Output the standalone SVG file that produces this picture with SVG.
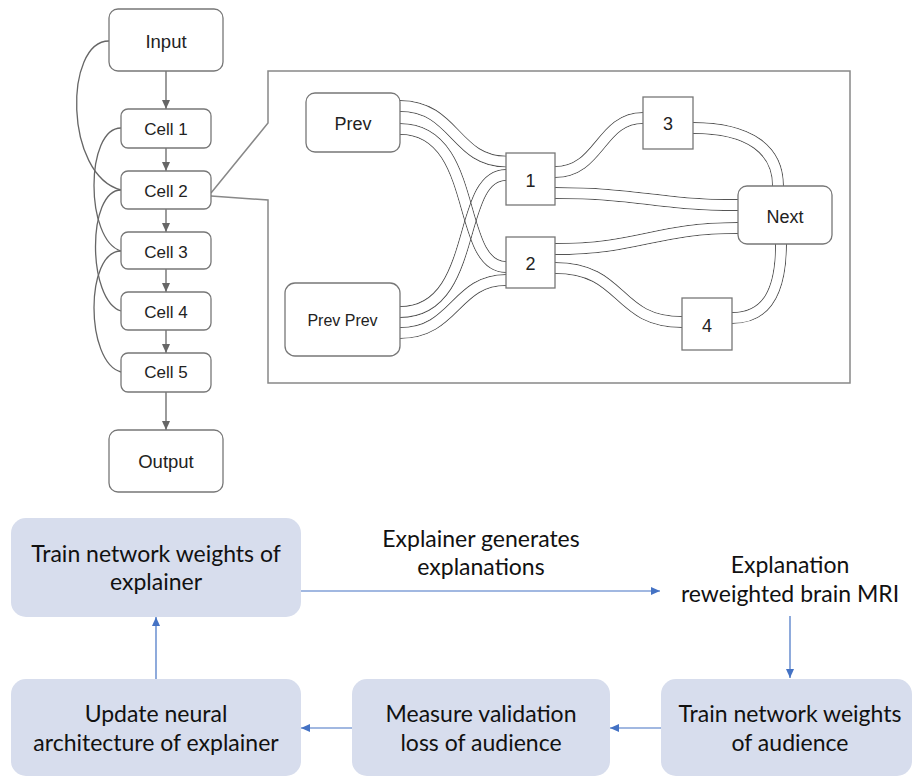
<svg xmlns="http://www.w3.org/2000/svg" width="913" height="777" viewBox="0 0 913 777">
<style>
  .gbox{fill:#fff;stroke:#777;stroke-width:1.3}
  .gline{fill:none;stroke:#666;stroke-width:1.3}
  .gtxt{font-family:"Liberation Sans",Arial,sans-serif;fill:#222;text-anchor:middle}
  .big{font-size:18.5px}
  .cell{font-size:17px}
  .inner{font-size:18px}
  .pp{font-size:16px}
  .frame{fill:none;stroke:#888;stroke-width:1.5}
  .mo{fill:none;stroke:#fff;stroke-width:12}
  .mi{fill:none;stroke:#000;stroke-width:10}
  .tube{fill:none;stroke:#555;stroke-width:12}
  .bbox{fill:#D7DDED;stroke:none}
  .btxt{font-family:Lato,"Open Sans",sans-serif;font-size:23px;fill:#111;text-anchor:middle}
  .bline{fill:none;stroke:#4472C4;stroke-width:1.2}
</style>
<defs>
  <marker id="ag" markerUnits="userSpaceOnUse" markerWidth="9" markerHeight="8" refX="9" refY="4" orient="auto">
    <path d="M0,0 L9,4 L0,8 z" fill="#666"/>
  </marker>
  <marker id="ab" markerUnits="userSpaceOnUse" markerWidth="9" markerHeight="8" refX="9" refY="4" orient="auto">
    <path d="M0,0 L9,4 L0,8 z" fill="#4472C4"/>
  </marker>
  <path id="t1" d="M400,106 C455,106 455,161.5 506,161.5"/>
  <path id="t2" d="M400,129 C480,129 455,267 506,267"/>
  <path id="t3" d="M400,312 C480,312 455,175 506,175"/>
  <path id="t4" d="M400,333 C455,333 455,280 506,280"/>
  <path id="t5" d="M555,172 C600,172 600,118 643,118"/>
  <path id="t6" d="M555,193 C640,193 655,205 738,205"/>
  <path id="t7" d="M555,249 C640,249 655,228 738,228"/>
  <path id="t8" d="M555,268 C625,268 615,322 682,322"/>
  <path id="t9" d="M693,128 C750,128 778,150 778,186"/>
  <path id="t10" d="M732,318 C768,318 781,290 781,244"/>
  <mask id="m1" maskUnits="userSpaceOnUse" x="0" y="0" width="913" height="777"><use href="#t1" class="mo"/><use href="#t1" class="mi"/></mask>
  <mask id="m2" maskUnits="userSpaceOnUse" x="0" y="0" width="913" height="777"><use href="#t2" class="mo"/><use href="#t2" class="mi"/></mask>
  <mask id="m3" maskUnits="userSpaceOnUse" x="0" y="0" width="913" height="777"><use href="#t3" class="mo"/><use href="#t3" class="mi"/></mask>
  <mask id="m4" maskUnits="userSpaceOnUse" x="0" y="0" width="913" height="777"><use href="#t4" class="mo"/><use href="#t4" class="mi"/></mask>
  <mask id="m5" maskUnits="userSpaceOnUse" x="0" y="0" width="913" height="777"><use href="#t5" class="mo"/><use href="#t5" class="mi"/></mask>
  <mask id="m6" maskUnits="userSpaceOnUse" x="0" y="0" width="913" height="777"><use href="#t6" class="mo"/><use href="#t6" class="mi"/></mask>
  <mask id="m7" maskUnits="userSpaceOnUse" x="0" y="0" width="913" height="777"><use href="#t7" class="mo"/><use href="#t7" class="mi"/></mask>
  <mask id="m8" maskUnits="userSpaceOnUse" x="0" y="0" width="913" height="777"><use href="#t8" class="mo"/><use href="#t8" class="mi"/></mask>
  <mask id="m9" maskUnits="userSpaceOnUse" x="0" y="0" width="913" height="777"><use href="#t9" class="mo"/><use href="#t9" class="mi"/></mask>
  <mask id="m10" maskUnits="userSpaceOnUse" x="0" y="0" width="913" height="777"><use href="#t10" class="mo"/><use href="#t10" class="mi"/></mask>
</defs>
<rect width="913" height="777" fill="#fff"/>

<g id="connectors">
  <!-- cell chain -->
  <path class="gline" d="M166,71 L166,109" marker-end="url(#ag)"/>
  <path class="gline" d="M166,148 L166,171" marker-end="url(#ag)"/>
  <path class="gline" d="M166,209 L166,232" marker-end="url(#ag)"/>
  <path class="gline" d="M166,269 L166,292" marker-end="url(#ag)"/>
  <path class="gline" d="M166,330 L166,353" marker-end="url(#ag)"/>
  <path class="gline" d="M166,392 L166,430" marker-end="url(#ag)"/>
  <!-- skip connections -->
  <path class="gline" d="M109,41 C64,41 64,175 121,190"/>
  <path class="gline" d="M121,128 C85,128 85,240 121,251"/>
  <path class="gline" d="M121,190 C87,190 87,300 121,311"/>
  <path class="gline" d="M121,251 C85,251 85,362 121,372"/>
  <!-- zoom frame -->
  <path class="frame" d="M211,193 L268,123 L268,71 L850,71 L850,383 L268,383 L268,200 L211,196"/>
  <!-- cell internal tubes -->
  <use href="#t1" class="tube" mask="url(#m1)"/>
  <use href="#t2" class="tube" mask="url(#m2)"/>
  <use href="#t3" class="tube" mask="url(#m3)"/>
  <use href="#t4" class="tube" mask="url(#m4)"/>
  <use href="#t5" class="tube" mask="url(#m5)"/>
  <use href="#t6" class="tube" mask="url(#m6)"/>
  <use href="#t7" class="tube" mask="url(#m7)"/>
  <use href="#t8" class="tube" mask="url(#m8)"/>
  <use href="#t9" class="tube" mask="url(#m9)"/>
  <use href="#t10" class="tube" mask="url(#m10)"/>
  <!-- bottom flow -->
  <path class="bline" d="M301,591 L660,591" marker-end="url(#ab)"/>
  <path class="bline" d="M790,616 L790,678" marker-end="url(#ab)"/>
  <path class="bline" d="M661,728 L610,728" marker-end="url(#ab)"/>
  <path class="bline" d="M352,728 L301,728" marker-end="url(#ab)"/>
  <path class="bline" d="M156,679 L156,617" marker-end="url(#ab)"/>
</g>

<g id="input"><rect class="gbox" x="109" y="9" width="114" height="62" rx="9"/><text class="gtxt big" x="166" y="47.5">Input</text></g>
<g id="cell1"><rect class="gbox" x="121" y="109" width="90" height="39" rx="7"/><text class="gtxt cell" x="166" y="134.5">Cell 1</text></g>
<g id="cell2"><rect class="gbox" x="121" y="171" width="90" height="38" rx="7"/><text class="gtxt cell" x="166" y="196.5">Cell 2</text></g>
<g id="cell3"><rect class="gbox" x="121" y="232" width="90" height="37" rx="7"/><text class="gtxt cell" x="166" y="257.5">Cell 3</text></g>
<g id="cell4"><rect class="gbox" x="121" y="292" width="90" height="38" rx="7"/><text class="gtxt cell" x="166" y="318">Cell 4</text></g>
<g id="cell5"><rect class="gbox" x="121" y="353" width="90" height="39" rx="7"/><text class="gtxt cell" x="166" y="378">Cell 5</text></g>
<g id="output"><rect class="gbox" x="109" y="430" width="114" height="62" rx="9"/><text class="gtxt big" x="166" y="467.5">Output</text></g>

<g id="prev"><rect class="gbox" x="306" y="93" width="94" height="59" rx="9"/><text class="gtxt inner" x="353" y="130">Prev</text></g>
<g id="prevprev"><rect class="gbox" x="285" y="283" width="115" height="73" rx="10"/><text class="gtxt pp" x="342.5" y="326">Prev Prev</text></g>
<g id="op1"><rect class="gbox" x="506" y="153" width="49" height="52"/><text class="gtxt inner" x="530.5" y="186.5">1</text></g>
<g id="op2"><rect class="gbox" x="506" y="237" width="49" height="51"/><text class="gtxt inner" x="530.5" y="269.5">2</text></g>
<g id="op3"><rect class="gbox" x="643" y="97" width="50" height="52"/><text class="gtxt inner" x="668" y="130">3</text></g>
<g id="op4"><rect class="gbox" x="682" y="298" width="50" height="52"/><text class="gtxt inner" x="707" y="331.5">4</text></g>
<g id="next"><rect class="gbox" x="738" y="186" width="94" height="58" rx="9"/><text class="gtxt inner" x="785" y="222.5">Next</text></g>

<g id="train-explainer"><rect class="bbox" x="11" y="518" width="290" height="99" rx="15"/><text class="btxt" x="156" y="562">Train network weights of</text><text class="btxt" x="156" y="590">explainer</text></g>
<g id="explainer-label"><text class="btxt" x="481" y="547">Explainer generates</text><text class="btxt" x="481" y="575">explanations</text></g>
<g id="explanation-mri"><text class="btxt" x="790" y="573">Explanation</text><text class="btxt" x="790" y="602">reweighted brain MRI</text></g>
<g id="train-audience"><rect class="bbox" x="661" y="679" width="251" height="97" rx="15"/><text class="btxt" x="790" y="722">Train network weights</text><text class="btxt" x="790" y="751">of audience</text></g>
<g id="measure-loss"><rect class="bbox" x="352" y="679" width="258" height="97" rx="15"/><text class="btxt" x="481" y="722">Measure validation</text><text class="btxt" x="481" y="751">loss of audience</text></g>
<g id="update-arch"><rect class="bbox" x="11" y="679" width="290" height="97" rx="15"/><text class="btxt" x="156" y="722">Update neural</text><text class="btxt" x="156" y="751">architecture of explainer</text></g>
</svg>
